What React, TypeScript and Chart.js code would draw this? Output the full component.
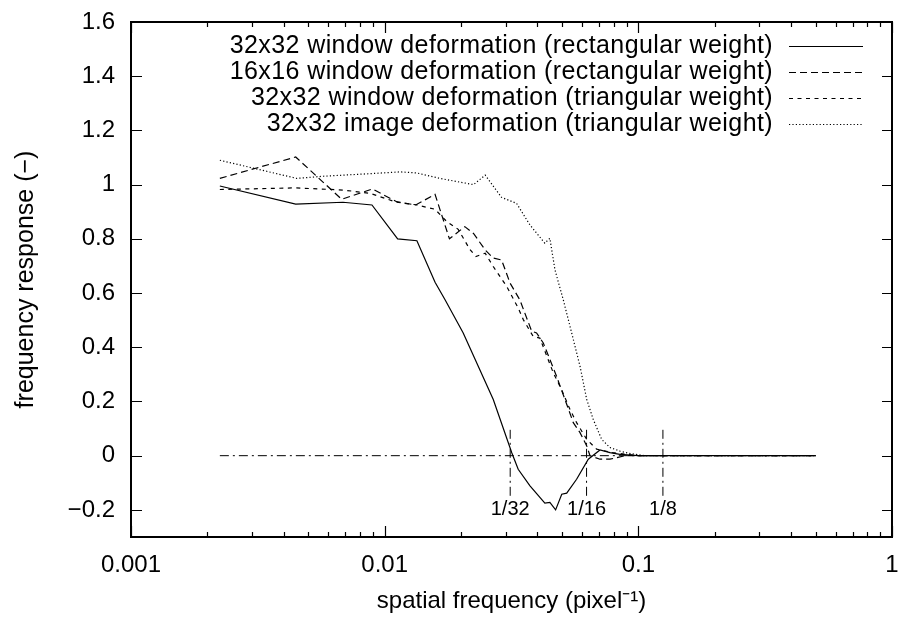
import React, { useEffect, useRef } from 'react';
import { Chart, registerables } from 'chart.js';

Chart.register(...registerables);

// ---------- data ----------
const SERIES_LABELS = [
  '32x32 window deformation (rectangular weight)',
  '16x16 window deformation (rectangular weight)',
  '32x32 window deformation (triangular weight)',
  '32x32 image deformation (triangular weight)',
];

// 32x32 window deformation, rectangular weight (solid)
const win32RectFreq = [
  0.00224, 0.00446, 0.00685, 0.00891, 0.01125, 0.0134, 0.0158, 0.0173, 0.0204, 0.0268,
  0.0317, 0.0336, 0.0374, 0.0428, 0.0448, 0.0472, 0.0499, 0.0522, 0.0571, 0.0635,
  0.0706, 0.0773, 0.0846, 0.1, 0.5,
];
const win32RectResp = [
  0.995, 0.928, 0.935, 0.925, 0.8, 0.793, 0.64, 0.575, 0.453, 0.207,
  0.011, -0.05, -0.111, -0.175, -0.172, -0.2, -0.142, -0.138, -0.087, -0.013,
  0.021, 0.011, 0.005, 0, 0,
];

// 16x16 window deformation, rectangular weight (long dash)
const win16RectFreq = [
  0.00224, 0.00446, 0.00677, 0.00894, 0.01115, 0.01325, 0.0158, 0.018, 0.0207, 0.0224,
  0.0249, 0.0268, 0.0289, 0.0312, 0.0341, 0.038, 0.0397, 0.0422, 0.0476, 0.0514,
  0.0554, 0.0589, 0.0626, 0.0645, 0.0706, 0.0773, 0.0886, 0.1, 0.5,
];
const win16RectResp = [
  1.023, 1.102, 0.946, 0.984, 0.937, 0.925, 0.964, 0.8, 0.845, 0.82,
  0.759, 0.729, 0.722, 0.637, 0.575, 0.459, 0.453, 0.416, 0.293, 0.207,
  0.122, 0.085, 0.036, 0.0, -0.013, -0.013, 0, 0, 0,
];

// 32x32 window deformation, triangular weight (short dash)
const win32TriFreq = [
  0.00224, 0.00446, 0.00687, 0.00875, 0.01115, 0.0134, 0.0158, 0.0176, 0.0195, 0.0217,
  0.0229, 0.0249, 0.0268, 0.0303, 0.0336, 0.0352, 0.0385, 0.0409, 0.0462, 0.0498,
  0.0538, 0.0571, 0.0626, 0.0685, 0.0794, 0.0902, 0.1, 0.5,
];
const win32TriResp = [
  0.982, 0.988, 0.98, 0.968, 0.935, 0.925, 0.909, 0.863, 0.835, 0.76,
  0.735, 0.747, 0.698, 0.624, 0.545, 0.502, 0.44, 0.434, 0.306, 0.244,
  0.17, 0.122, 0.06, 0.024, 0.011, 0.005, 0, 0,
];

// 32x32 image deformation, triangular weight (dotted)
const img32TriFreq = [
  0.00224, 0.0045, 0.00573, 0.00823, 0.0115, 0.0134, 0.0165, 0.0224, 0.0249, 0.0289,
  0.0331, 0.0374, 0.0428, 0.0448, 0.0469, 0.0506, 0.0546, 0.0589, 0.0626, 0.0664,
  0.0717, 0.0773, 0.0846, 0.0913, 0.106, 0.5,
];
const img32TriResp = [
  1.09, 1.023, 1.031, 1.039, 1.047, 1.043, 1.023, 1.0, 1.035, 0.953,
  0.931, 0.851, 0.784, 0.802, 0.686, 0.575, 0.453, 0.33, 0.207, 0.134,
  0.06, 0.03, 0.017, 0.009, 0, 0,
];

// reference lines
const ZERO_LINE_FREQ = [0.00224, 0.5];
const REF_FREQS = [1 / 32, 1 / 16, 1 / 8];
const REF_LABELS = ['1/32', '1/16', '1/8'];
const REF_SPAN = [-0.148, 0.103];
const REF_LABEL_Y = -0.2;

// axes
const X_TICK_VALUES = [
  0.001, 0.002, 0.003, 0.004, 0.005, 0.006, 0.007, 0.008, 0.009,
  0.01, 0.02, 0.03, 0.04, 0.05, 0.06, 0.07, 0.08, 0.09,
  0.1, 0.2, 0.3, 0.4, 0.5, 0.6, 0.7, 0.8, 0.9, 1,
];
const X_TICK_LABELS = [
  '0.001', '', '', '', '', '', '', '', '',
  '0.01', '', '', '', '', '', '', '', '',
  '0.1', '', '', '', '', '', '', '', '',
  '1',
];
const Y_TICK_VALUES = [-0.2, 0, 0.2, 0.4, 0.6, 0.8, 1, 1.2, 1.4, 1.6];
const Y_TICK_LABELS = ['\u22120.2', '0', '0.2', '0.4', '0.6', '0.8', '1', '1.2', '1.4', '1.6'];

const FONT = '"Liberation Sans", Arial, Helvetica, sans-serif';

const pts = (xs: number[], ys: number[]) => xs.map((x, i) => ({ x, y: ys[i] }));

const frameAndTicks = {
  id: 'frameAndTicks',
  afterDraw(chart: any) {
    const { ctx, chartArea } = chart;
    const xs = chart.scales.x;
    const ys = chart.scales.y;
    const { left, right, top, bottom } = chartArea;
    ctx.save();
    ctx.strokeStyle = '#000';
    ctx.setLineDash([]);
    ctx.lineWidth = 1.2;
    ctx.beginPath();
    ys.ticks.forEach((t: any) => {
      const py = Math.round(ys.getPixelForValue(t.value)) + 0.5;
      ctx.moveTo(left, py);
      ctx.lineTo(left + 11, py);
      ctx.moveTo(right, py);
      ctx.lineTo(right - 10, py);
    });
    xs.ticks.forEach((t: any, i: number) => {
      const px = Math.round(xs.getPixelForValue(t.value)) + 0.5;
      const len = X_TICK_LABELS[i] ? 11 : 5;
      ctx.moveTo(px, bottom);
      ctx.lineTo(px, bottom - len);
      ctx.moveTo(px, top);
      ctx.lineTo(px, top + len);
    });
    ctx.stroke();
    ctx.lineWidth = 2;
    ctx.strokeRect(left, top, right - left, bottom - top);

    // reference labels
    ctx.fillStyle = '#000';
    ctx.font = '20px ' + FONT;
    ctx.textAlign = 'center';
    ctx.textBaseline = 'middle';
    REF_FREQS.forEach((f, i) => {
      ctx.fillText(REF_LABELS[i], xs.getPixelForValue(f), ys.getPixelForValue(REF_LABEL_Y));
    });

    // legend
    ctx.font = '25px ' + FONT;
    ctx.textAlign = 'right';
    try {
      (ctx as any).letterSpacing = '0.4px';
    } catch (e) {}
    SERIES_LABELS.forEach((label, i) => {
      const ds = chart.data.datasets[i];
      const y = top + 24 + i * 26;
      const lineEnd = right - 29;
      const lineStart = lineEnd - 74;
      ctx.fillText(label, lineStart - 16, y);
      ctx.beginPath();
      ctx.setLineDash(ds.borderDash || []);
      ctx.lineWidth = ds.borderWidth;
      ctx.moveTo(lineStart, y + 0.5);
      ctx.lineTo(lineEnd, y + 0.5);
      ctx.stroke();
    });
    ctx.restore();
  },
};

export default function App() {
  const canvasRef = useRef<HTMLCanvasElement | null>(null);

  useEffect(() => {
    document.body.style.margin = '0';
    const canvas = canvasRef.current;
    if (!canvas) return;
    const lineDs = (label: string, data: any[], dash: number[], width = 1.2) => ({
      label,
      data,
      borderColor: '#000',
      backgroundColor: '#000',
      borderWidth: width,
      borderDash: dash,
      pointRadius: 0,
      tension: 0,
      fill: false,
    });
    const datasets: any[] = [
      lineDs(SERIES_LABELS[0], pts(win32RectFreq, win32RectResp), []),
      lineDs(SERIES_LABELS[1], pts(win16RectFreq, win16RectResp), [7, 4]),
      lineDs(SERIES_LABELS[2], pts(win32TriFreq, win32TriResp), [4, 4.5]),
      lineDs(SERIES_LABELS[3], pts(img32TriFreq, img32TriResp), [1.2, 2.2]),
      lineDs('zero', ZERO_LINE_FREQ.map((x) => ({ x, y: 0 })), [9, 4, 2, 4], 1),
      ...REF_FREQS.map((f, i) =>
        lineDs(REF_LABELS[i], REF_SPAN.map((y) => ({ x: f, y })), [9, 4, 2, 4], 1)
      ),
    ];

    const chart = new Chart(canvas, {
      type: 'line',
      data: { datasets },
      options: {
        responsive: false,
        animation: false,
        devicePixelRatio: 1,
        layout: { padding: { top: 22, right: 7, left: 0, bottom: 0 } },
        plugins: { legend: { display: false }, tooltip: { enabled: false } },
        scales: {
          x: {
            type: 'logarithmic',
            min: 0.001,
            max: 1,
            afterBuildTicks: (s: any) => {
              s.ticks = X_TICK_VALUES.map((v) => ({ value: v }));
            },
            ticks: {
              autoSkip: false,
              maxRotation: 0,
              minRotation: 0,
              padding: 14,
              color: '#000',
              font: { family: FONT, size: 24 },
              callback: (_v: any, i: number) => X_TICK_LABELS[i],
            },
            grid: { display: false, drawTicks: false },
            border: { display: false },
            title: {
              display: true,
              text: 'spatial frequency (pixel\u207B\u00B9)',
              color: '#000',
              font: { family: FONT, size: 24 },
              padding: { top: 0, bottom: 8 },
            },
            afterFit: (s: any) => {
              s.height = 87;
              s.paddingLeft = 0;
              s.paddingRight = 0;
            },
          },
          y: {
            type: 'linear',
            min: -0.3,
            max: 1.6,
            afterBuildTicks: (s: any) => {
              s.ticks = Y_TICK_VALUES.map((v) => ({ value: v }));
            },
            ticks: {
              autoSkip: false,
              padding: 16,
              color: '#000',
              font: { family: FONT, size: 24 },
              callback: (_v: any, i: number) => Y_TICK_LABELS[i],
            },
            grid: { display: false, drawTicks: false },
            border: { display: false },
            title: {
              display: true,
              text: 'frequency response (\u2212)',
              color: '#000',
              font: { family: FONT, size: 25 },
              padding: { top: 11, bottom: 0 },
            },
            afterFit: (s: any) => {
              s.width = 131;
              s.paddingTop = 0;
              s.paddingBottom = 0;
            },
          },
        },
      },
      plugins: [frameAndTicks],
    } as any);
    return () => chart.destroy();
  }, []);

  return (
    <div style={{ width: 899, height: 624, background: '#fff' }}>
      <canvas ref={canvasRef} width={899} height={624} />
    </div>
  );
}
